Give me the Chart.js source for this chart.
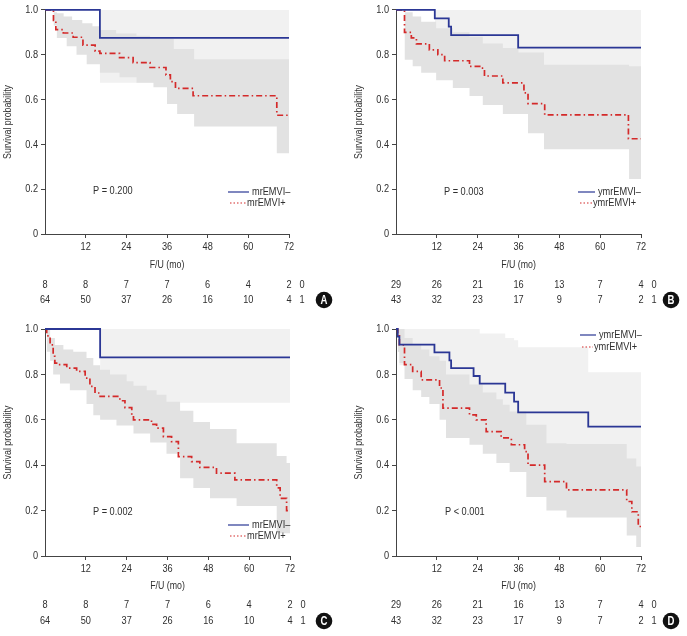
<!DOCTYPE html>
<html>
<head>
<meta charset="utf-8">
<script src="https://cdn.jsdelivr.net/npm/chart.js@4.4.0/dist/chart.umd.min.js"></script>
<style>
  body { margin: 0; background: #fff; }
  #wrap { position: relative; width: 687px; height: 636px; }
  #wrap canvas { position: absolute; }
</style>
</head>
<body>
<div id="wrap">
  <canvas id="cA" width="343" height="318" style="left:0;top:0"></canvas>
  <canvas id="cB" width="344" height="318" style="left:343px;top:0"></canvas>
  <canvas id="cC" width="343" height="318" style="left:0;top:318px"></canvas>
  <canvas id="cD" width="344" height="318" style="left:343px;top:318px"></canvas>
</div>
<script>
// ticks and at-risk table
var riskMonths = [0, 12, 24, 36, 48, 60, 72];
var xTicks = [12, 24, 36, 48, 60, 72];
var yTicks = [0, 0.2, 0.4, 0.6, 0.8, 1.0];

var riskMr0 = [8, 8, 7, 7, 6, 4, 2];
var riskMr1 = [64, 50, 37, 26, 16, 10, 4];
var riskYmr0 = [29, 26, 21, 16, 13, 7, 4];
var riskYmr1 = [43, 32, 23, 17, 9, 7, 2];

// KM curves: [month, survival from that month on]
// CI bands: [month, lower, upper]
var aNeg = [[0, 1], [16.2, 0.875], [72, 0.875]];
var aNegCi = [[16.2, 0.675, 1], [72, 0.675, 1]];
var aPos = [[0, 1], [2.5, 0.953], [3.2, 0.912], [5.4, 0.897], [8.3, 0.878], [11.2, 0.843], [14.8, 0.816],
  [16.2, 0.806], [22, 0.787], [26, 0.765], [31, 0.743], [35.7, 0.71], [37, 0.68], [38.5, 0.65],
  [43.7, 0.617], [68.4, 0.53], [72, 0.53]];
var aPosCi = [[2.5, 0.93, 0.99], [3.5, 0.875, 0.985], [5.5, 0.875, 0.97], [6.4, 0.838, 0.97],
  [8, 0.838, 0.955], [9.3, 0.8, 0.955], [11, 0.8, 0.94], [12.3, 0.758, 0.94], [14, 0.758, 0.927],
  [16.2, 0.72, 0.91], [21, 0.72, 0.895], [22, 0.7, 0.895], [27, 0.675, 0.885], [31, 0.675, 0.87],
  [32, 0.655, 0.87], [36, 0.58, 0.87], [38, 0.58, 0.825], [39, 0.535, 0.825], [44, 0.48, 0.78],
  [68.4, 0.36, 0.78], [72, 0.36, 0.78]];

var bNeg = [[0, 1], [11.4, 0.962], [15.5, 0.925], [16.2, 0.887], [35.9, 0.832], [72, 0.832]];
var bNegCi = [[11.4, 0.89, 1], [16.2, 0.74, 1], [35.9, 0.65, 1], [72, 0.65, 1]];
var bPos = [[0, 1], [2.5, 0.9], [4.5, 0.875], [6, 0.848], [9.8, 0.822], [12.3, 0.8], [14.3, 0.773],
  [21.6, 0.748], [24.6, 0.74], [26, 0.705], [31.4, 0.674], [37.6, 0.63], [38.8, 0.582],
  [43.7, 0.532], [68.3, 0.425], [72, 0.425]];
var bPosCi = [[2.5, 0.777, 0.99], [4.9, 0.748, 0.97], [7.4, 0.719, 0.947], [11.8, 0.686, 0.918],
  [16.7, 0.652, 0.9], [21.6, 0.616, 0.88], [25.5, 0.576, 0.85], [31.4, 0.535, 0.83],
  [36, 0.535, 0.81], [38.8, 0.45, 0.81], [43.5, 0.378, 0.755], [68.5, 0.245, 0.748], [72, 0.245, 0.748]];

var cNeg = [[0, 1], [16.2, 0.875], [72, 0.875]];
var cNegCi = [[16.2, 0.675, 1], [72, 0.675, 1]];
var cPos = [[0, 1], [0.5, 0.97], [1.5, 0.93], [2.4, 0.88], [2.9, 0.85], [3.9, 0.843], [6.4, 0.828],
  [9.3, 0.813], [11.8, 0.784], [13.2, 0.747], [14.7, 0.718], [16.2, 0.703], [22, 0.684],
  [23.5, 0.654], [25.5, 0.622], [26, 0.6], [31.3, 0.58], [32.8, 0.563], [34.8, 0.526],
  [37.2, 0.504], [39.2, 0.438], [43.1, 0.416], [45.5, 0.39], [50.4, 0.365], [55.8, 0.335],
  [68.1, 0.3], [69.1, 0.254], [71, 0.2], [72, 0.2]];
var cPosCi = [[0.5, 0.9, 1], [1.5, 0.86, 0.96], [2.4, 0.8, 0.96], [2.9, 0.8, 0.93], [4.4, 0.76, 0.93],
  [5.4, 0.76, 0.91], [7.3, 0.73, 0.91], [8.3, 0.73, 0.9], [12.2, 0.67, 0.872], [14.2, 0.62, 0.84],
  [16.2, 0.6, 0.82], [19.1, 0.6, 0.8], [21, 0.575, 0.8], [24, 0.575, 0.77], [26, 0.54, 0.75],
  [29.9, 0.54, 0.73], [30.9, 0.5, 0.73], [32.8, 0.5, 0.71], [35.7, 0.45, 0.68], [39.7, 0.343, 0.64],
  [43.6, 0.3, 0.59], [48.5, 0.254, 0.56], [56.3, 0.22, 0.497], [68.1, 0.1, 0.44], [71, 0.1, 0.41],
  [72, 0.1, 0.41]];

var dNeg = [[0, 1], [0.5, 0.966], [1, 0.931], [11.3, 0.897], [15.7, 0.862], [16.2, 0.828], [22.8, 0.793],
  [24.6, 0.759], [32.1, 0.72], [34.7, 0.68], [35.9, 0.633], [56.5, 0.57], [72, 0.57]];
var dNegCi = [[0.5, 0.9, 1], [1, 0.84, 1], [11.3, 0.79, 1], [15.7, 0.74, 1], [16.2, 0.7, 1],
  [22.8, 0.65, 1], [24.6, 0.6, 0.98], [32.1, 0.56, 0.96], [34.7, 0.52, 0.95], [35.9, 0.47, 0.92],
  [56.5, 0.39, 0.81], [72, 0.39, 0.81]];
var dPos = [[0, 1], [0.5, 0.97], [1, 0.93], [2.5, 0.843], [4.9, 0.813], [7.4, 0.776], [12.8, 0.74],
  [13.8, 0.651], [21.6, 0.622], [23.6, 0.6], [26.5, 0.548], [30.9, 0.52], [33.9, 0.49], [37.8, 0.46],
  [38.8, 0.4], [43.7, 0.328], [50.1, 0.291], [67.8, 0.24], [69.3, 0.195], [71.2, 0.13], [72, 0.13]];
var dPosCi = [[0.5, 0.9, 1], [1, 0.85, 1], [2.5, 0.78, 0.96], [4.9, 0.73, 0.93], [7.4, 0.7, 0.91],
  [9.8, 0.67, 0.88], [12.8, 0.6, 0.86], [14.7, 0.52, 0.8], [21.6, 0.49, 0.755], [25.5, 0.45, 0.72],
  [29.5, 0.41, 0.69], [31.4, 0.41, 0.666], [33.4, 0.37, 0.637], [38.3, 0.26, 0.578], [44.2, 0.2, 0.497],
  [50.1, 0.17, 0.493], [67.8, 0.09, 0.43], [70.6, 0.04, 0.394], [72, 0.04, 0.394]];

var FONT = "'Liberation Sans', Arial, sans-serif";
var NARROW = 0.8;   // squeeze text horizontally, the original uses a condensed face
var BLUE = '#2b3795';
var RED = '#d42a2a';
var LIGHT = '#f1f1f1';
var DARK = '#e2e2e2';
var INK = '#2f2f2f';
var NONE = 'rgba(0,0,0,0)';
var DASH = [6, 3, 1.5, 3];

function toXY(rows, k) {
  return rows.map(function (r) { return { x: r[0], y: r[k] }; });
}

function band(rows, k, color, fill) {
  return { data: toXY(rows, k), stepped: true, borderColor: NONE, borderWidth: 0, pointRadius: 0,
    backgroundColor: color, fill: fill, order: color == LIGHT ? 4 : 3 };
}

function narrowText(canvas) {
  var c = canvas.getContext('2d');
  var fill = c.fillText;
  c.fillText = function (t, x, y, mw) {
    var w = this.measureText(t).width * NARROW;
    return fill.call(this, t, x, y, mw === undefined ? w : Math.min(mw, w));
  };
}

function makePanel(id, p) {
  var canvas = document.getElementById(id);
  var W = canvas.width, H = canvas.height;
  narrowText(canvas);

  // P value, legend, number at risk and panel letter
  var overlay = {
    id: 'overlay',
    afterDraw: function (chart) {
      var ctx = chart.ctx, sx = chart.scales.x;
      ctx.save();
      ctx.font = '11.5px ' + FONT;
      ctx.fillStyle = INK;
      ctx.textBaseline = 'middle';
      ctx.textAlign = 'left';
      ctx.fillText(p.pText, p.pAt[0], p.pAt[1]);

      // legend
      ctx.lineWidth = 1.2;
      ctx.strokeStyle = BLUE;
      ctx.beginPath();
      ctx.moveTo(p.leg[0], p.leg[2]);
      ctx.lineTo(p.leg[1], p.leg[2]);
      ctx.stroke();
      ctx.strokeStyle = RED;
      ctx.setLineDash([1.5, 2]);
      ctx.beginPath();
      ctx.moveTo(p.leg[0] + 2, p.leg[3]);
      ctx.lineTo(p.leg[1] - 3, p.leg[3]);
      ctx.stroke();
      ctx.setLineDash([]);
      ctx.fillText(p.names[0], p.leg[1] + 3, p.leg[2]);
      ctx.fillText(p.names[1], p.leg[1] - 2, p.leg[3]);

      // number at risk
      ctx.textAlign = 'center';
      for (var i = 0; i < riskMonths.length; i++) {
        var px = sx.getPixelForValue(riskMonths[i]);
        ctx.fillText(String(p.risk0[i]), px, p.rows[0]);
        ctx.fillText(String(p.risk1[i]), px, p.rows[1]);
      }
      ctx.fillText('0', sx.right + 13, p.rows[0]);
      ctx.fillText('1', sx.right + 13, p.rows[1]);

      // letter badge
      ctx.fillStyle = '#111';
      ctx.beginPath();
      ctx.arc(p.badge[0], p.badge[1], 8.3, 0, Math.PI * 2);
      ctx.fill();
      ctx.fillStyle = '#fff';
      ctx.font = 'bold 12px ' + FONT;
      ctx.fillText(p.letter, p.badge[0], p.badge[1] + 0.5);
      ctx.restore();
    }
  };

  var axisFont = { family: FONT, size: 11.5 };
  return new Chart(canvas, {
    type: 'line',
    data: {
      datasets: [
        band(p.negCi, 2, LIGHT, '+1'),
        band(p.negCi, 1, LIGHT, false),
        band(p.posCi, 2, DARK, '+1'),
        band(p.posCi, 1, DARK, false),
        { data: toXY(p.pos, 1), stepped: true, borderColor: RED, borderWidth: 1.7, borderDash: DASH,
          pointRadius: 0, fill: false, order: 2, clip: 4 },
        { data: toXY(p.neg, 1), stepped: true, borderColor: BLUE, borderWidth: 1.8,
          pointRadius: 0, fill: false, order: 1, clip: 4 }
      ]
    },
    options: {
      responsive: false,
      animation: false,
      events: [],
      layout: { padding: { left: p.box[0] - 45, right: W - p.box[1], top: p.box[2], bottom: 0 } },
      plugins: { legend: { display: false }, tooltip: { enabled: false } },
      scales: {
        x: {
          type: 'linear', min: 0, max: 72,
          afterBuildTicks: function (s) { s.ticks = xTicks.map(function (v) { return { value: v }; }); },
          afterFit: function (s) { s.height = H - p.box[3]; },
          grid: { drawOnChartArea: false, drawTicks: true, tickLength: 4, color: '#444' },
          border: { display: true, color: '#444', width: 1 },
          ticks: { color: INK, font: axisFont, padding: 2, maxRotation: 0, autoSkip: false },
          title: { display: true, text: 'F/U (mo)', color: INK, font: { family: FONT, size: 11 },
            padding: { top: 0, bottom: p.titlePad } }
        },
        y: {
          min: 0, max: 1,
          afterBuildTicks: function (s) { s.ticks = yTicks.map(function (v) { return { value: v }; }); },
          afterFit: function (s) { s.width = 45; },
          grid: { drawOnChartArea: false, drawTicks: true, tickLength: 4, color: '#444' },
          border: { display: true, color: '#444', width: 1 },
          ticks: { color: INK, font: axisFont, padding: 3,
            callback: function (v) { return v === 0 ? '0' : v.toFixed(1); } },
          title: { display: true, text: 'Survival probability', color: INK, font: { family: FONT, size: 11 },
            padding: { top: 1.5, bottom: 0 } }
        }
      }
    },
    plugins: [overlay]
  });
}

makePanel('cA', { box: [45, 289, 7, 234], titlePad: 46, rows: [285, 300], badge: [324, 300], letter: 'A',
  neg: aNeg, negCi: aNegCi, pos: aPos, posCi: aPosCi, risk0: riskMr0, risk1: riskMr1,
  pText: 'P = 0.200', pAt: [93, 191], leg: [228, 249, 192, 203], names: ['mrEMVI\u2013', 'mrEMVI+'] });
makePanel('cB', { box: [53, 298, 8, 234], titlePad: 46, rows: [285, 300], badge: [328, 300], letter: 'B',
  neg: bNeg, negCi: bNegCi, pos: bPos, posCi: bPosCi, risk0: riskYmr0, risk1: riskYmr1,
  pText: 'P = 0.003', pAt: [101, 192], leg: [235, 252, 192, 203], names: ['ymrEMVI\u2013', 'ymrEMVI+'] });
makePanel('cC', { box: [45, 290, 11, 238], titlePad: 43, rows: [287, 303], badge: [324, 303], letter: 'C',
  neg: cNeg, negCi: cNegCi, pos: cPos, posCi: cPosCi, risk0: riskMr0, risk1: riskMr1,
  pText: 'P = 0.002', pAt: [93, 194], leg: [228, 249, 207, 218], names: ['mrEMVI\u2013', 'mrEMVI+'] });
makePanel('cD', { box: [53, 298, 11, 238], titlePad: 43, rows: [287, 303], badge: [328, 303], letter: 'D',
  neg: dNeg, negCi: dNegCi, pos: dPos, posCi: dPosCi, risk0: riskYmr0, risk1: riskYmr1,
  pText: 'P < 0.001', pAt: [102, 194], leg: [237, 253, 17, 29], names: ['ymrEMVI\u2013', 'ymrEMVI+'] });
</script>
</body>
</html>
